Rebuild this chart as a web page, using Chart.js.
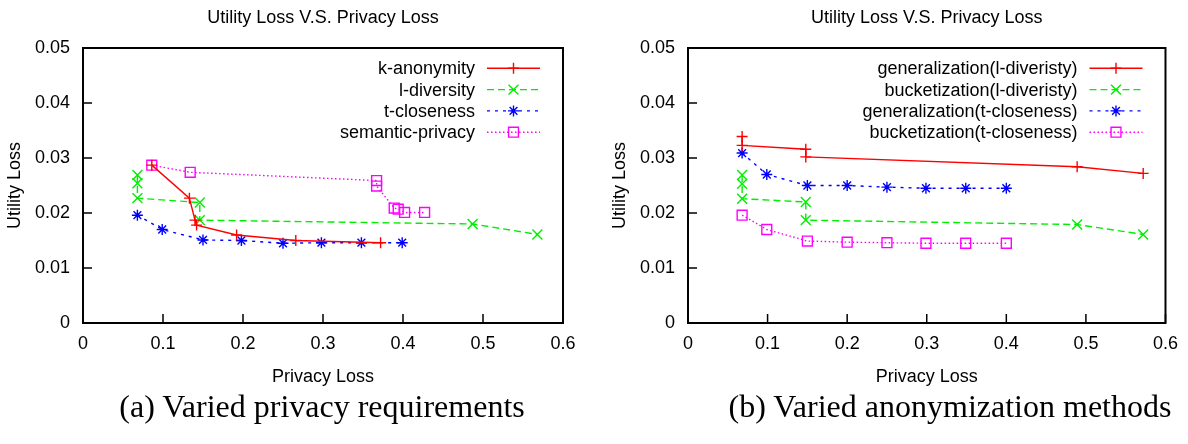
<!DOCTYPE html>
<html>
<head>
<meta charset="utf-8">
<script src="https://cdn.jsdelivr.net/npm/chart.js@4.4.1/dist/chart.umd.min.js"></script>
<style>
body{margin:0;background:#fff;width:1188px;height:444px;position:relative;overflow:hidden}
canvas{position:absolute;top:0}
#left{left:0}
#right{left:600px}
.cap{position:absolute;top:388px;width:600px;font-family:"Liberation Serif","Times New Roman",serif;font-size:32px;text-align:center;color:#000;white-space:nowrap}
</style>
</head>
<body>
<canvas id="left" width="594" height="390"></canvas>
<canvas id="right" width="588" height="390"></canvas>
<div class="cap" style="left:22px">(a) Varied privacy requirements</div>
<div class="cap" style="left:650px">(b) Varied anonymization methods</div>
<script>
// (a) privacy requirements
const namesA=["k-anonymity","l-diversity","t-closeness","semantic-privacy"]
const kAnonX=[0.086,0.133,0.140,0.142,0.192,0.266,0.372]
const kAnonY=[0.0287,0.0227,0.0187,0.0178,0.0160,0.0150,0.0146]
const lDivX=[0.068,0.068,0.068,0.146,0.146,0.487,0.568]
const lDivY=[0.0269,0.0254,0.0227,0.0219,0.0187,0.0180,0.0161]
const tCloseX=[0.068,0.099,0.150,0.198,0.250,0.298,0.348,0.399]
const tCloseY=[0.0196,0.0170,0.0151,0.0150,0.0145,0.0146,0.0146,0.0146]
const semPrivX=[0.086,0.134,0.367,0.367,0.389,0.394,0.402,0.427]
const semPrivY=[0.0287,0.0274,0.0259,0.0249,0.0209,0.0207,0.0201,0.0201]

// (b) anonymization methods
const namesB=["generalization(l-diveristy)","bucketization(l-diveristy)","generalization(t-closeness)","bucketization(t-closeness)"]
const genLX=[0.068,0.068,0.148,0.148,0.489,0.572]
const genLY=[0.0339,0.0323,0.0316,0.0302,0.0284,0.0272]
const bucLX=[0.068,0.068,0.068,0.148,0.148,0.489,0.572]
const bucLY=[0.0269,0.0253,0.0226,0.0220,0.0187,0.0179,0.0161]
const genTX=[0.068,0.099,0.150,0.200,0.250,0.299,0.349,0.400]
const genTY=[0.0309,0.0270,0.0250,0.0250,0.0247,0.0245,0.0245,0.0245]
const bucTX=[0.068,0.099,0.150,0.200,0.250,0.299,0.349,0.400]
const bucTY=[0.0196,0.0170,0.0149,0.0147,0.0146,0.0145,0.0145,0.0145]

const xMax=0.6, xStep=0.1
const yMax=0.05, yStep=0.01

// gnuplot-ish line types
const colors=["#ff0000","#00ee00","#0000ff","#ff00ff"]
const dashes=[[],[7,4],[3,5],[1.5,2.5]]
const marks=["cross","crossRot","star","rect"]
const radii=[5.5,7,5.5,7]

const FONT='"Liberation Sans", Arial, sans-serif'
Chart.defaults.font.family=FONT
Chart.defaults.font.size=18
Chart.defaults.color="#000"

const fmt=v=>String(+Number(v).toFixed(3))

/* frame, inward ticks, title and key */
const gnuLook={
id:"gnuLook",
afterDatasetsDraw(chart,args,opts){
const {ctx,chartArea:a,scales:{x,y}}=chart
ctx.save()
ctx.strokeStyle="#000"
ctx.lineWidth=1.5
ctx.setLineDash([])
ctx.beginPath()
x.ticks.forEach(t=>{
const px=x.getPixelForValue(t.value)
ctx.moveTo(px,a.bottom)
ctx.lineTo(px,a.bottom-9)
})
y.ticks.forEach(t=>{
const py=y.getPixelForValue(t.value)
ctx.moveTo(a.left,py)
ctx.lineTo(a.left+9,py)
})
ctx.stroke()
ctx.lineWidth=2
ctx.strokeRect(a.left,a.top,a.right-a.left,a.bottom-a.top)

ctx.font="18px "+FONT
ctx.fillStyle="#000"
ctx.textAlign="center"
ctx.textBaseline="middle"
ctx.fillText(opts.title,(a.left+a.right)/2,18)

ctx.textAlign="right"
chart.data.datasets.forEach((ds,i)=>{
const yy=a.top+20.3+i*21.3
const x1=a.right-76,x2=a.right-23
ctx.fillStyle="#000"
ctx.fillText(ds.label,a.right-88,yy+1)
ctx.strokeStyle=ds.borderColor
ctx.lineWidth=ds.borderWidth
ctx.setLineDash(ds.borderDash)
ctx.beginPath()
ctx.moveTo(x1,yy)
ctx.lineTo(x2,yy)
ctx.stroke()
ctx.setLineDash([])
ctx.fillStyle="rgba(0,0,0,0)"
ctx.lineWidth=ds.pointBorderWidth
Chart.helpers.drawPoint(ctx,{pointStyle:ds.pointStyle,radius:ds.pointRadius,rotation:0,borderWidth:ds.pointBorderWidth},(x1+x2)/2,yy)
})
ctx.restore()
}
}

function makeChart(id,names,xs,ys,box){
const datasets=names.map((name,i)=>({
label:name,
data:xs[i].map((x,j)=>({x,y:ys[i][j]})),
showLine:true,
borderColor:colors[i],
backgroundColor:"rgba(0,0,0,0)",
borderWidth:1.4,
borderDash:dashes[i],
pointStyle:marks[i],
pointRadius:radii[i],
pointHoverRadius:radii[i],
pointBorderWidth:1.4,
pointBorderColor:colors[i],
pointBackgroundColor:"rgba(0,0,0,0)"
}))
return new Chart(document.getElementById(id),{
type:"scatter",
data:{datasets},
options:{
responsive:false,
animation:false,
events:[],
layout:{padding:{left:0,top:48,right:box.right,bottom:0}},
plugins:{
legend:{display:false},
tooltip:{enabled:false},
gnuLook:{title:"Utility Loss V.S. Privacy Loss"}
},
scales:{
x:{
type:"linear",min:0,max:xMax,
ticks:{stepSize:xStep,padding:10,callback:fmt},
grid:{drawOnChartArea:false,drawTicks:false},
border:{display:false},
title:{display:true,text:"Privacy Loss",padding:{top:0,bottom:2}},
afterFit(s){s.height=67}
},
y:{
type:"linear",min:0,max:yMax,
ticks:{stepSize:yStep,padding:13,callback:fmt},
grid:{drawOnChartArea:false,drawTicks:false},
border:{display:false},
title:{display:true,text:"Utility Loss",padding:{top:box.yTitle,bottom:0}},
afterFit(s){s.width=box.left}
}
}
},
plugins:[gnuLook]
})
}

makeChart("left",namesA,[kAnonX,lDivX,tCloseX,semPrivX],[kAnonY,lDivY,tCloseY,semPrivY],{left:83,right:31,yTitle:4.7})
makeChart("right",namesB,[genLX,bucLX,genTX,bucTX],[genLY,bucLY,genTY,bucTY],{left:88,right:21,yTitle:9.7})
</script>
</body>
</html>
